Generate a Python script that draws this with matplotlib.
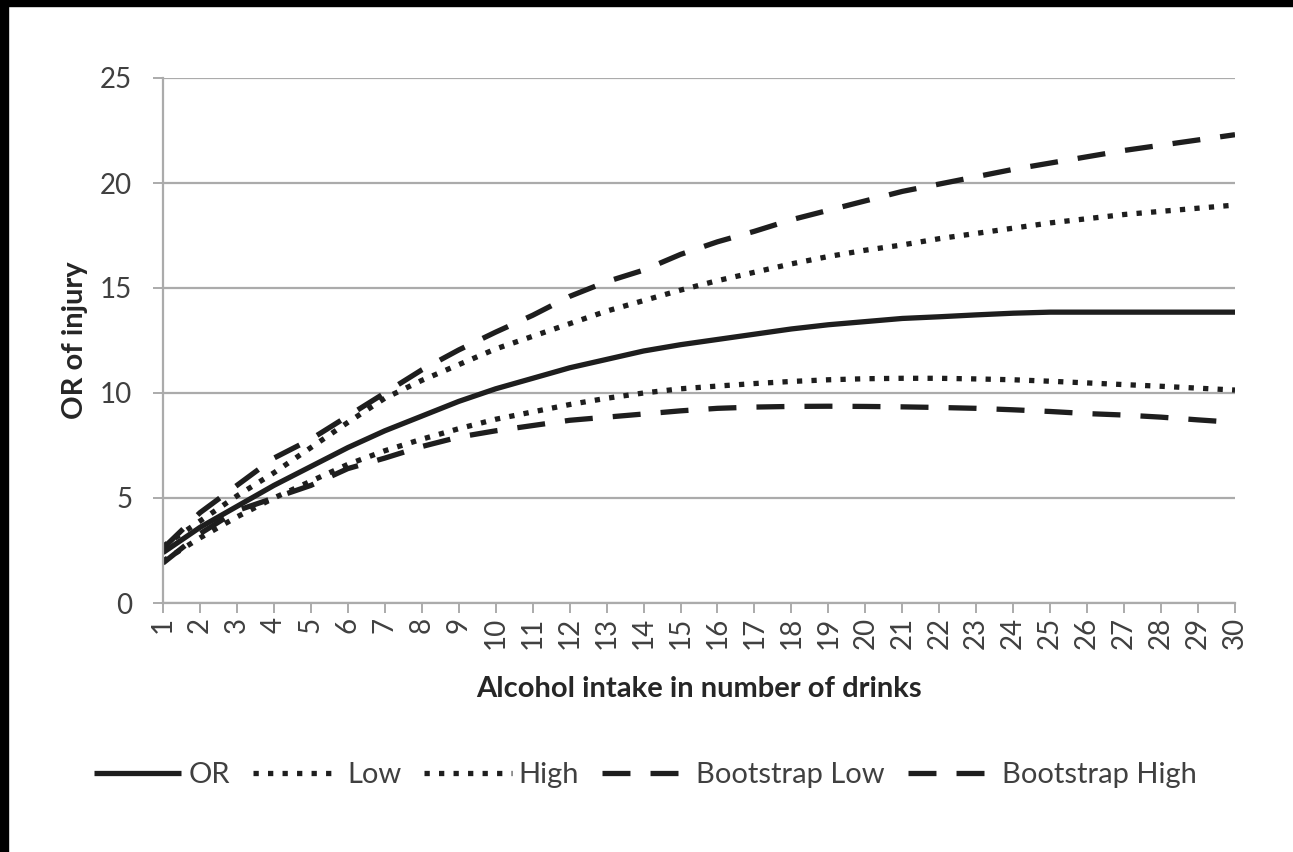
import matplotlib
matplotlib.use("Agg")
import matplotlib.pyplot as plt
from matplotlib.patches import Rectangle

drinks = list(range(1, 31))
or_vals = [2.4, 3.6, 4.6, 5.6, 6.5, 7.4, 8.2, 8.9, 9.6, 10.2,
           10.7, 11.2, 11.6, 12.0, 12.3, 12.55, 12.8, 13.05, 13.25, 13.4,
           13.55, 13.63, 13.72, 13.8, 13.85, 13.85, 13.85, 13.85, 13.85, 13.85]
low_vals = [2.0, 3.1, 4.1, 5.0, 5.8, 6.6, 7.25, 7.8, 8.3, 8.75,
            9.1, 9.45, 9.75, 10.0, 10.2, 10.33, 10.45, 10.55, 10.63, 10.68,
            10.7, 10.7, 10.67, 10.63, 10.56, 10.48, 10.4, 10.32, 10.23, 10.14]
high_vals = [2.7, 3.9, 5.1, 6.2, 7.4, 8.6, 9.75, 10.6, 11.35, 12.1,
             12.7, 13.3, 13.9, 14.4, 14.9, 15.35, 15.75, 16.15, 16.5, 16.8,
             17.05, 17.35, 17.6, 17.85, 18.1, 18.3, 18.5, 18.65, 18.8, 18.95]
boot_low = [1.9, 3.3, 4.4, 5.0, 5.6, 6.4, 6.9, 7.45, 7.9, 8.2,
            8.45, 8.7, 8.85, 9.0, 9.15, 9.27, 9.33, 9.36, 9.37, 9.36,
            9.34, 9.31, 9.27, 9.2, 9.12, 9.02, 8.95, 8.85, 8.72, 8.6]
boot_high = [2.6, 4.3, 5.6, 6.9, 7.8, 8.9, 10.0, 11.1, 12.05, 12.9,
             13.7, 14.6, 15.3, 15.85, 16.6, 17.2, 17.7, 18.25, 18.7, 19.15,
             19.6, 19.95, 20.3, 20.65, 20.95, 21.25, 21.55, 21.8, 22.05, 22.3]
series_names = ["OR", "Low", "High", "Bootstrap Low", "Bootstrap High"]
y_ticks = [0, 5, 10, 15, 20, 25]
x_label = "Alcohol intake in number of drinks"
y_label = "OR of injury"

plt.rcParams['font.family'] = ['Lato', 'DejaVu Sans']

W, H = 1293, 852
fig = plt.figure(figsize=(W / 100, H / 100), dpi=100)
fig.patch.set_facecolor('white')
ax = fig.add_axes([163 / W, 1 - 603 / H, (1235 - 163) / W, (603 - 78) / H])

grid_c = '#ababab'
line_c = '#1e1e1e'
lw = 3.8
dot_style = (0, (1, 1.75))
dash_style = (0, (5.3, 3.8))

ax.plot(drinks, or_vals, color=line_c, lw=lw, ls='-', label=series_names[0],
        solid_capstyle='butt')
ax.plot(drinks, low_vals, color=line_c, lw=lw, ls=dot_style, label=series_names[1],
        dash_capstyle='butt')
ax.plot(drinks, high_vals, color=line_c, lw=lw, ls=dot_style, label=series_names[2],
        dash_capstyle='butt')
ax.plot(drinks, boot_low, color=line_c, lw=lw, ls=dash_style, label=series_names[3],
        dash_capstyle='butt')
ax.plot(drinks, boot_high, color=line_c, lw=lw, ls=dash_style, label=series_names[4],
        dash_capstyle='butt')

ax.set_xlim(1, 30)
ax.set_ylim(0, 25)
ax.set_yticks(y_ticks)
ax.set_xticks(drinks)
ax.set_xticklabels([str(d) for d in drinks], rotation=90)
ax.yaxis.grid(True, color=grid_c, lw=1.6)
ax.set_axisbelow(True)
for s in ['top', 'right']:
    ax.spines[s].set_visible(False)
for s in ['left', 'bottom']:
    ax.spines[s].set_color(grid_c)
    ax.spines[s].set_linewidth(1.6)
ax.tick_params(axis='both', colors=grid_c, width=1.4, length=7.2, direction='out',
               labelcolor='#404040', labelsize=20)
ax.tick_params(axis='y', pad=15)
ax.tick_params(axis='x', pad=3)

ax.set_xlabel(x_label, fontsize=21, fontweight='bold', color='#262626')
ax.set_ylabel(y_label, fontsize=21, fontweight='bold', color='#262626')
ax.xaxis.set_label_coords(0.5, (603 - 689) / 525)
ax.xaxis.label.set_va('center')
ax.yaxis.set_label_coords((75 - 163) / 1072, 0.5)
ax.yaxis.label.set_va('center')

fs = 21
leg = fig.legend(loc='center', bbox_to_anchor=(645.5 / W, 1 - 775 / H), ncol=5,
                 frameon=False, fontsize=fs, handlelength=63 / fs,
                 handletextpad=5 / fs, columnspacing=16.5 / fs)
for t in leg.get_texts():
    t.set_color('#404040')

fig.add_artist(Rectangle((0, 1 - 6 / H), 1, 6 / H, transform=fig.transFigure,
                         color='black', zorder=10))
fig.add_artist(Rectangle((0, 0), 8 / W, 1, transform=fig.transFigure,
                         color='black', zorder=10))

fig.savefig('out.png', dpi=100, facecolor='white')
